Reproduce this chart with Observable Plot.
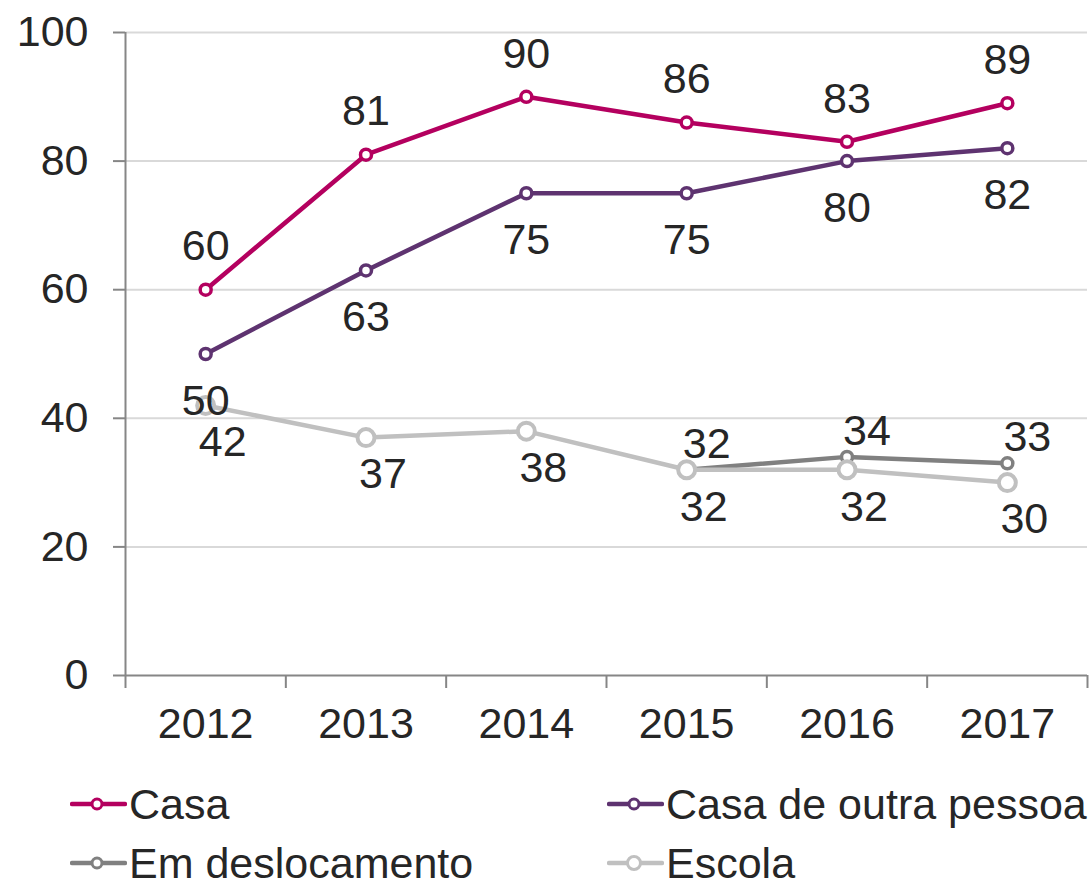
<!DOCTYPE html>
<html>
<head>
<meta charset="utf-8">
<script src="https://cdn.jsdelivr.net/npm/d3@7"></script>
<script src="https://cdn.jsdelivr.net/npm/@observablehq/plot@0.6"></script>
<style>
  html, body { margin: 0; padding: 0; background: #ffffff; }
  body { width: 1089px; height: 887px; overflow: hidden; font-family: "Liberation Sans", Arial, sans-serif; }
  #legend { position: relative; width: 1089px; height: 127px; }
  .item { position: absolute; display: flex; align-items: center; height: 32px; font-size: 43px; line-height: 32px; color: #262626; white-space: nowrap; }
  .item svg { display: block; }
</style>
</head>
<body>
<div id="chart"></div>
<div id="legend"></div>
<script>
// ---- data ----
const years = [2012, 2013, 2014, 2015, 2016, 2017];
const seriesNames = ["Casa", "Casa de outra pessoa", "Em deslocamento", "Escola"];
const casa = [60, 81, 90, 86, 83, 89];
const casaOutraPessoa = [50, 63, 75, 75, 80, 82];
const emDeslocamento = [null, null, null, 32, 34, 33];
const escola = [42, 37, 38, 32, 32, 30];
const yTicks = [0, 20, 40, 60, 80, 100];

// ---- styles ----
const colors = ["#B4005F", "#5E3370", "#808080", "#C0C0C0"];
const styleOf = {
  "Casa": { r: 5.5, sw: 3.5, dx: 0, dy: -43 },
  "Casa de outra pessoa": { r: 5.5, sw: 3.5, dx: 0, dy: 47 },
  "Em deslocamento": { r: 5.5, sw: 3.5, dx: 20, dy: -26 },
  "Escola": { r: 8.5, sw: 4, dx: 17, dy: 37 }
};
const FS = 43;

const valuesBySeries = [casa, casaOutraPessoa, emDeslocamento, escola];
const rows = [];
seriesNames.forEach((s, si) => {
  valuesBySeries[si].forEach((v, i) => {
    if (v != null) rows.push({ series: s, year: years[i], value: v });
  });
});

const bounds = [years[0] - 0.5, ...years.map(y => y + 0.5)];
const font = "'Liberation Sans', Arial, sans-serif";

const seriesMarks = [];
seriesNames.forEach((s, si) => {
  const data = rows.filter(d => d.series === s);
  const st = styleOf[s];
  seriesMarks.push(
    Plot.line(data, { x: "year", y: "value", stroke: colors[si], strokeWidth: 4.5, curve: "linear" }),
    Plot.dot(data, { x: "year", y: "value", r: st.r, stroke: colors[si], strokeWidth: st.sw, fill: "white" })
  );
});
const labelMarks = seriesNames.map((s, si) => {
  const data = rows.filter(d => d.series === s);
  const st = styleOf[s];
  return Plot.text(data, { x: "year", y: "value", text: d => String(d.value), dx: st.dx, dy: st.dy, fontSize: FS, fill: "#262626", fontFamily: font });
});

const chart = Plot.plot({
  width: 1089,
  height: 760,
  marginLeft: 125,
  marginRight: 2,
  marginTop: 32,
  marginBottom: 85,
  x: { domain: [bounds[0], bounds[bounds.length - 1]], axis: null },
  y: { domain: [0, 100], axis: null },
  style: { fontFamily: font, fontSize: FS + "px", color: "#262626", background: "white", overflow: "visible" },
  marks: [
    Plot.ruleY(yTicks.filter(t => t > 0), { stroke: "#D9D9D9", strokeWidth: 2 }),
    Plot.axisY({ ticks: yTicks, tickSize: 12, tickPadding: 25, stroke: "#868686", strokeWidth: 2, fill: "#262626", fontSize: FS, label: null, tickFormat: d => String(d) }),
    Plot.axisX({ ticks: bounds, tickSize: 13, stroke: "#868686", strokeWidth: 2, tickFormat: () => "", label: null }),
    Plot.axisX({ ticks: years, tickSize: 0, tickPadding: 32, fill: "#262626", fontSize: FS, tickFormat: d => String(d), label: null }),
    Plot.ruleX([bounds[0]], { stroke: "#868686", strokeWidth: 2 }),
    Plot.ruleY([0], { stroke: "#868686", strokeWidth: 2 }),
    ...seriesMarks,
    ...labelMarks
  ]
});
document.getElementById("chart").appendChild(chart);

// ---- legend ----
const legend = document.getElementById("legend");
const legendPos = [
  { left: 70, top: 28 }, { left: 607, top: 28 },
  { left: 70, top: 87 }, { left: 607, top: 87 }
];
const legendOrder = ["Casa", "Casa de outra pessoa", "Em deslocamento", "Escola"];
legendOrder.forEach((s, k) => {
  const si = seriesNames.indexOf(s);
  const item = document.createElement("div");
  item.className = "item";
  item.style.left = legendPos[k].left + "px";
  item.style.top = legendPos[k].top + "px";
  const r = s === "Escola" ? 6.5 : 5;
  item.innerHTML = `<svg width="57" height="22" viewBox="0 0 57 22">
      <line x1="2" y1="11" x2="55" y2="11" stroke="${colors[si]}" stroke-width="4.5" stroke-linecap="round"/>
      <circle cx="27" cy="11" r="${r}" fill="white" stroke="${colors[si]}" stroke-width="3"/>
    </svg><span style="margin-left:2px">${s}</span>`;
  legend.appendChild(item);
});
</script>
</body>
</html>
